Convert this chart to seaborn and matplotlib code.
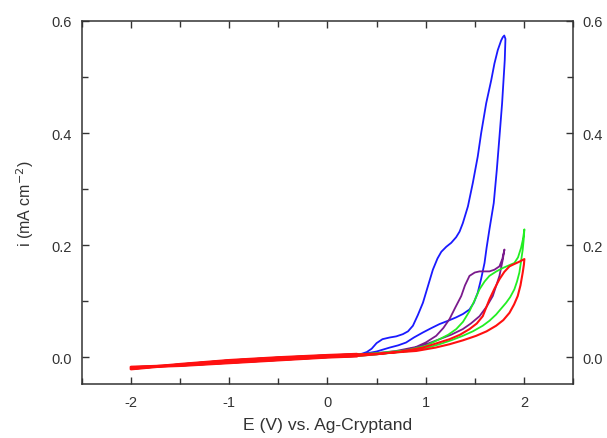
import numpy as np
import pandas as pd
import matplotlib.pyplot as plt
from matplotlib.ticker import MultipleLocator
import seaborn as sns

# Shared low-potential part of every cycle (forward and reverse sweeps)
base_fwd_E = [-2.0, -1.5, -1.0, -0.5, 0.0, 0.3]
base_fwd_i = [-0.021, -0.013, -0.006, -0.001, 0.003, 0.005]
base_rev_E = [0.3, 0.0, -0.5, -1.0, -1.5, -2.0]
base_rev_i = [0.002, 0.000, -0.005, -0.010, -0.015, -0.018]

# Blue cycle (to 1.8 V)
blue_E = [0.35, 0.40, 0.45, 0.50, 0.56, 0.633, 0.70, 0.768, 0.82, 0.87, 0.92, 0.972, 1.02, 1.073,
          1.12, 1.159, 1.21, 1.26, 1.31, 1.345, 1.378, 1.43, 1.48, 1.53, 1.565, 1.616, 1.667, 1.70,
          1.734, 1.768, 1.785, 1.80,
          1.812, 1.805, 1.778, 1.751, 1.724, 1.693, 1.649, 1.62, 1.599, 1.565, 1.53, 1.49, 1.446,
          1.38, 1.311, 1.23, 1.141, 1.06, 0.972, 0.88, 0.80, 0.72, 0.633, 0.5, 0.35]
blue_i = [0.006, 0.009, 0.015, 0.025, 0.032, 0.035, 0.037, 0.041, 0.046, 0.056, 0.075, 0.097, 0.125, 0.156,
          0.176, 0.188, 0.197, 0.204, 0.214, 0.224, 0.239, 0.269, 0.311, 0.358, 0.400, 0.453, 0.494, 0.524,
          0.548, 0.565, 0.571, 0.574,
          0.568, 0.530, 0.453, 0.393, 0.334, 0.275, 0.228, 0.195, 0.168, 0.140, 0.115, 0.097, 0.085,
          0.077, 0.071, 0.065, 0.059, 0.052, 0.044, 0.035, 0.026, 0.021, 0.017, 0.010, 0.005]

# Purple cycle (to 1.8 V)
purple_E = [0.5, 0.7, 0.9, 1.0, 1.107, 1.18, 1.243, 1.30, 1.362, 1.40, 1.446, 1.50, 1.548, 1.60,
            1.649, 1.70, 1.751, 1.78, 1.802,
            1.795, 1.785, 1.751, 1.683, 1.62, 1.548, 1.46, 1.378, 1.26, 1.141, 1.02, 0.904, 0.7, 0.5]
purple_i = [0.007, 0.011, 0.018, 0.026, 0.038, 0.052, 0.068, 0.088, 0.109, 0.128, 0.145, 0.151, 0.153, 0.153,
            0.153, 0.156, 0.162, 0.175, 0.192,
            0.185, 0.174, 0.145, 0.109, 0.090, 0.073, 0.060, 0.050, 0.040, 0.032, 0.024, 0.017, 0.009, 0.005]

# Green cycle (to 2.0 V)
green_E = [0.5, 0.8, 1.0, 1.141, 1.23, 1.311, 1.38, 1.446, 1.50, 1.548, 1.60, 1.649, 1.72, 1.785,
           1.85, 1.903, 1.94, 1.971, 1.99, 2.005,
           1.998, 1.988, 1.97, 1.954, 1.93, 1.903, 1.86, 1.819, 1.717, 1.65, 1.581, 1.48, 1.378,
           1.26, 1.141, 1.0, 0.8, 0.5]
green_i = [0.007, 0.012, 0.020, 0.032, 0.040, 0.050, 0.063, 0.082, 0.102, 0.121, 0.135, 0.145, 0.153, 0.159,
           0.164, 0.168, 0.178, 0.195, 0.210, 0.228,
           0.210, 0.192, 0.170, 0.151, 0.135, 0.121, 0.107, 0.097, 0.076, 0.065, 0.056, 0.046, 0.038,
           0.030, 0.023, 0.016, 0.010, 0.005]

# Red cycle (to 2.0 V)
red_E = [0.5, 0.904, 1.1, 1.243, 1.38, 1.514, 1.62, 1.717, 1.79, 1.853, 1.90, 1.937, 1.965, 1.988,
         2.0, 2.005,
         1.95, 1.90, 1.853, 1.80, 1.751, 1.70, 1.649, 1.581, 1.52, 1.446, 1.35, 1.243, 1.1, 0.972,
         0.75, 0.5]
red_i = [0.006, 0.011, 0.017, 0.023, 0.030, 0.038, 0.046, 0.056, 0.066, 0.079, 0.094, 0.109, 0.128, 0.151,
         0.165, 0.175,
         0.170, 0.166, 0.162, 0.152, 0.139, 0.122, 0.103, 0.073, 0.060, 0.050, 0.040, 0.032, 0.024, 0.017,
         0.010, 0.005]

cycles = [
    ("blue", blue_E, blue_i, "#1a1aff", 1.3),
    ("purple", purple_E, purple_i, "#7a1a8c", 1.3),
    ("green", green_E, green_i, "#22ee22", 1.3),
    ("red", red_E, red_i, "#ff1010", 1.5),
]

sns.set_style("ticks")
plt.rcParams['font.family'] = ['Liberation Sans', 'DejaVu Sans']
plt.rcParams['axes.unicode_minus'] = False

fig = plt.figure(figsize=(6.07, 4.39), dpi=100)
ax = fig.add_axes([0.135, 0.123, 0.809, 0.827])

for name, E, i, color, lw in cycles:
    df = pd.DataFrame({
        "E": base_fwd_E + E + base_rev_E,
        "i": base_fwd_i + i + base_rev_i,
    })
    sns.lineplot(data=df, x="E", y="i", sort=False, estimator=None,
                 color=color, linewidth=lw, ax=ax)

# the noisy red low-potential region reads as a thicker band
for E, i in [(base_fwd_E, base_fwd_i), (base_rev_E, base_rev_i)]:
    sns.lineplot(x=E, y=i, sort=False, estimator=None, color="#ff1010", linewidth=2.2, ax=ax)

for line in ax.get_lines():
    line.set_solid_joinstyle('round')

ax.set_xlim(-2.5, 2.5)
ax.set_ylim(-0.048, 0.6)
ax.xaxis.set_major_locator(MultipleLocator(1))
ax.xaxis.set_minor_locator(MultipleLocator(0.5))
ax.yaxis.set_major_locator(MultipleLocator(0.2))
ax.yaxis.set_minor_locator(MultipleLocator(0.1))
ax.yaxis.set_major_formatter(plt.FormatStrFormatter('%.1f'))
ax.tick_params(which='both', direction='in', top=True, right=True,
               labelright=True, labelsize=10.5, color='#333333', labelcolor='#333333')
ax.tick_params(which='major', length=5, width=1)
ax.tick_params(which='minor', length=4, width=1)
ax.tick_params(axis='x', which='major', pad=8)
ax.tick_params(axis='y', which='major', pad=7)
for s in ax.spines.values():
    s.set_color('#333333')
    s.set_linewidth(1.1)

ax.set_xlabel("E (V) vs. Ag-Cryptand", fontsize=12.6, color='#333333', labelpad=6)
ax.set_ylabel("i (mA cm$^{-2}$)", fontsize=11.5, color='#333333', labelpad=11)

fig.savefig("out.png", dpi=100)
